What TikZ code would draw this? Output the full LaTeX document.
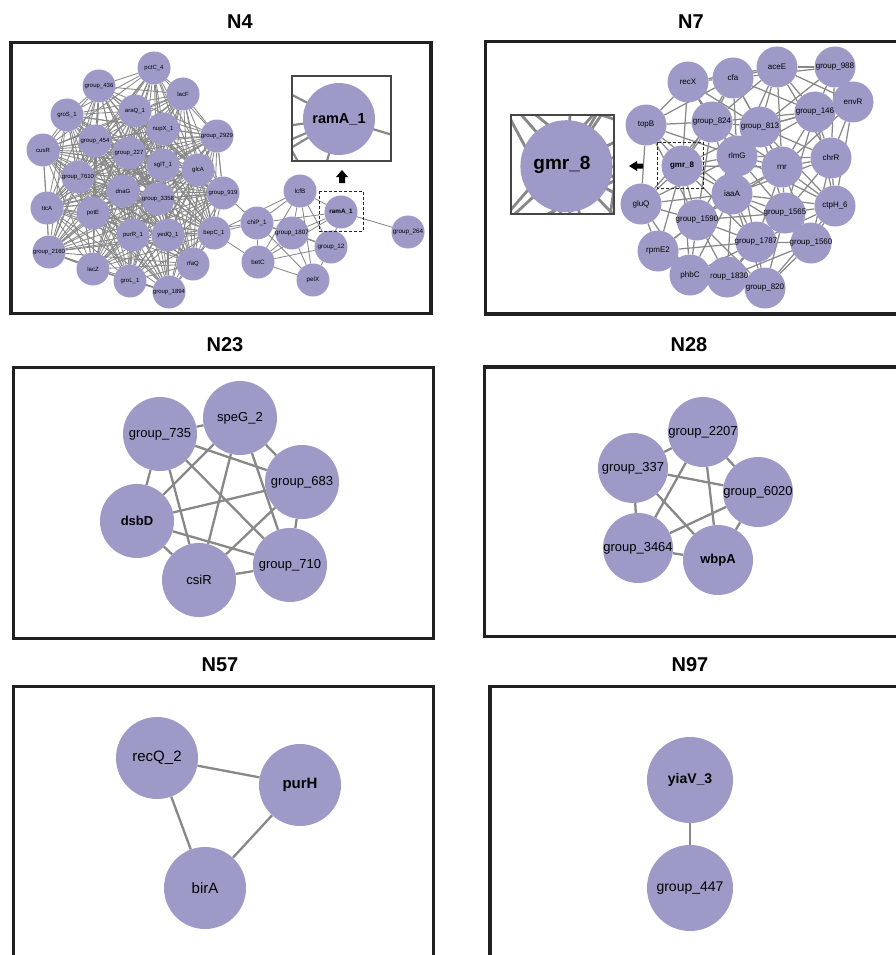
\documentclass[tikz,border=0pt]{standalone}
\usepackage{fontspec}
\setmainfont{Liberation Sans}
\definecolor{nodefill}{RGB}{158,154,200}
\definecolor{edgegray}{RGB}{136,136,136}
\definecolor{framecol}{RGB}{32,32,32}
\definecolor{insetframe}{RGB}{70,70,70}
\pgfdeclarelayer{bglayer}
\pgfdeclarelayer{edgelayer}
\pgfsetlayers{bglayer,edgelayer,main}
\tikzset{
  gnode/.style={circle,fill=nodefill,inner sep=0pt,text=black,minimum size=#1},
  panel/.style={draw=framecol,line width=3.3pt},
  ptitle/.style={font=\fontsize{20}{24}\selectfont\bfseries},
  bigedge/.style={draw=edgegray,line width=2.3pt},
  efour/.style={draw=edgegray,line width=0.85pt},
  eseven/.style={draw=edgegray,line width=1.25pt},
  zfour/.style={draw=edgegray,line width=2.2pt},
  zseven/.style={draw=edgegray,line width=2.8pt},
  insetbox/.style={draw=insetframe,line width=1.6pt},
  dashbox/.style={draw=black!85,line width=0.9pt,dash pattern=on 3pt off 2pt},
}
\newcommand\lbl[1]{\makebox[0pt]{#1}}
\newcommand\threshedges[4]{%
  \foreach \a/\ax/\ay/\la [count=\i] in #1 {%
    \foreach \b/\bx/\by/\lb [count=\j] in #1 {%
      \ifnum\j>\i
        \pgfmathtruncatemacro\ok{veclen(\bx-\ax,\by-\ay)<#2}%
        \ifnum\ok=1 \draw[#3] (#4\a) -- (#4\b);\fi
      \fi
    }%
  }}
\def\NfourL{pctC4/154/68/pctC\_4, g436/99/86/group\_436, lacF/183/94/lacF, araQ/135/111/araQ\_1, groS/67/115/groS\_1, nupX/163/129/nupX\_1, g2929/217/136/group\_2929, cusR/43/150/cusR, g454/95/141/group\_454, g227/129/153/group\_227, sglT/163/165/sglT\_1, glcA/198/170/glcA, g7610/78/177/group\_7610, dnaG/123/191/dnaG, g3358/158/199/group\_3358, g919/223/193/group\_919, ttcA/47/208/ttcA, potE/93/213/potE, purR/133/235/purR\_1, yedQ/168/235/yedQ\_1, bepC/214/233/bepC\_1, g2160/49/252/group\_2160, lacZ/93/269/lacZ, rfaQ/193/264/rfaQ, groL/130/281/groL\_1, g1894/169/292/group\_1894}
\def\NfourR{lcfB/300/191/lcfB, ramA/341/212/{\bfseries ramA\_1}, g264/408/232/group\_264, chiP/257/223/chiP\_1, g1807/292/233/group\_1807, g12/331/247/group\_12, betC/258/262/betC, pelX/313/280/pelX}
\def\NfourRE{chiP/lcfB, chiP/g1807, chiP/betC, chiP/pelX, chiP/ramA, chiP/g12, lcfB/g1807, lcfB/betC, lcfB/ramA, lcfB/g12, lcfB/pelX, ramA/g1807, ramA/betC, ramA/g264, ramA/g12, g1807/betC, g1807/pelX, g1807/g12, betC/g12, betC/pelX, g12/pelX}
\def\NsevenL{recX/688/82/recX, cfa/733/78/cfa, aceE/777/67/aceE, g988/835/67/group\_988, envR/853/102/envR, g146/815/112/group\_146, g824/712/122/group\_824, g813/760/127/group\_813, topB/646/125/topB, rlmG/737/156/rlmG, gmr/682/166/{\bfseries gmr\_8}, chrR/831/158/chrR, rnr/782/167/rnr, iaaA/732/194/iaaA, gluQ/641/204/gluQ, g1590/697/220/group\_1590, g1565/785/213/group\_1565, ctpH/835/206/ctpH\_6, g1787/756/242/group\_1787, g1560/811/243/group\_1560, rpmE/658/251/rpmE2, g1830/727/277/group\_1830, phbC/690/275/phbC, g820/765/288/group\_820}
\begin{document}
\begin{tikzpicture}[x=1pt,y=-1pt]
\useasboundingbox (0,0) rectangle (896,955);
\begin{pgfonlayer}{bglayer}
\fill[white] (0,0) rectangle (896,955);
\end{pgfonlayer}

% ---------- titles ----------
\node[ptitle] (t4) at (240,22) {N4};
\node[ptitle] (t7) at (691,22) {N7};
\node[ptitle] (t23) at (225,345) {N23};
\node[ptitle] (t28) at (689,345) {N28};
\node[ptitle] (t57) at (220,665) {N57};
\node[ptitle] (t97) at (690,665) {N97};

% ---------- panel frames ----------
\draw[panel] (11,42.5) rectangle (431,313.5);
\draw[panel] (485.5,41.5) rectangle (905,314);
\draw[panel] (13.5,367.5) rectangle (433.5,638.5);
\draw[panel] (484.5,367) rectangle (905,636.5);
\draw[panel] (13.5,965) -- (13.5,686.5) -- (433.5,686.5) -- (433.5,965);
\draw[panel] (490,965) -- (490,686.5) -- (905,686.5);

% ---------- N4 ----------
\foreach \n/\x/\y/\t in \NfourL {\node[gnode=33pt,font=\fontsize{6}{7}\selectfont] (\n) at (\x,\y) {\lbl{\t}};}
\foreach \n/\x/\y/\t in \NfourR {\node[gnode=33pt,font=\fontsize{6.3}{7}\selectfont] (\n) at (\x,\y) {\lbl{\t}};}
\begin{pgfonlayer}{edgelayer}
\threshedges{\NfourL}{190}{efour}{}
\foreach \a/\b in \NfourRE {\draw[efour] (\a) -- (\b);}
\foreach \a/\b in {bepC/chiP, bepC/betC, bepC/lcfB, yedQ/chiP, g919/chiP, g2929/g919}{\draw[efour] (\a) -- (\b);}
\end{pgfonlayer}
\draw[dashbox] (319,191) rectangle (363,231);
\fill (336,177) -- (342,170) -- (348,177) -- (345,177) -- (345,183) -- (339,183) -- (339,177) -- cycle;
% inset N4
\fill[white] (292,76) rectangle (391,161);
\begin{scope}
\clip (292,76) rectangle (391,161);
\foreach \n/\x/\y/\t in \NfourR {\coordinate (z\n) at ({339+2.2*(\x-341)},{119+2.2*(\y-212)});}
\foreach \a/\b in \NfourRE {\draw[zfour] (z\a) -- (z\b);}
\foreach \n/\x/\y/\t in \NfourR {\fill[nodefill] (z\n) circle[radius=36pt];}
\end{scope}
\node[font=\fontsize{14.5}{16}\selectfont\bfseries] (zramAlabel) at (339,119) {ramA\_1};
\draw[insetbox] (292,76) rectangle (391,161);

% ---------- N7 ----------
\foreach \n/\x/\y/\t in \NsevenL {\node[gnode=41pt,font=\fontsize{8}{9}\selectfont] (\n) at (\x,\y) {\lbl{\t}};}
\begin{pgfonlayer}{edgelayer}
\threshedges{\NsevenL}{112}{eseven}{}
\end{pgfonlayer}
\draw[dashbox] (657,142) rectangle (703,188);
\fill (637,161) -- (629,166) -- (637,171) -- (637,168.5) -- (643,168.5) -- (643,163.5) -- (637,163.5) -- cycle;
% inset N7
\fill[white] (511,115) rectangle (614,214);
\begin{scope}
\clip (511,115) rectangle (614,214);
\foreach \n/\x/\y/\t in \NsevenL {\coordinate (z\n) at ({562+2.2*(\x-680)},{164+2.2*(\y-165)});}
\threshedges{\NsevenL}{112}{zseven}{z}
\foreach \n/\x/\y/\t in \NsevenL {\fill[nodefill] (z\n) circle[radius=46pt];}
\end{scope}
\node[font=\fontsize{19}{21}\selectfont\bfseries] (zgmrlabel) at (562,165) {gmr\_8};
\draw[insetbox] (511,115) rectangle (614,214);

% ---------- N23 ----------
\begin{scope}[every node/.style={gnode=74pt,font=\fontsize{13}{15}\selectfont}]
\node (g735) at (160,434) {\lbl{group\_735}};
\node (speG) at (240,418) {\lbl{speG\_2}};
\node (g683) at (302,482) {\lbl{group\_683}};
\node (dsbD) at (137,521) {\lbl{\bfseries dsbD}};
\node (g710) at (290,565) {\lbl{group\_710}};
\node (csiR) at (199,580) {\lbl{csiR}};
\end{scope}
\begin{pgfonlayer}{edgelayer}
\foreach \a/\b in {g735/speG, g735/g683, g735/dsbD, g735/g710, g735/csiR, speG/g683, speG/dsbD, speG/g710, speG/csiR, g683/dsbD, g683/g710, g683/csiR, dsbD/g710, dsbD/csiR, g710/csiR}{\draw[bigedge] (\a) -- (\b);}
\end{pgfonlayer}

% ---------- N28 ----------
\begin{scope}[every node/.style={gnode=70pt,font=\fontsize{13}{15}\selectfont}]
\node (g2207) at (703,432) {\lbl{group\_2207}};
\node (g337) at (633,468) {\lbl{group\_337}};
\node (g6020) at (758,492) {\lbl{group\_6020}};
\node (g3464) at (638,548) {\lbl{group\_3464}};
\node (wbpA) at (718,560) {\lbl{\bfseries wbpA}};
\end{scope}
\begin{pgfonlayer}{edgelayer}
\foreach \a/\b in {g2207/g337, g2207/g6020, g2207/g3464, g2207/wbpA, g337/g6020, g337/g3464, g337/wbpA, g6020/g3464, g6020/wbpA, g3464/wbpA}{\draw[bigedge] (\a) -- (\b);}
\end{pgfonlayer}

% ---------- N57 ----------
\begin{scope}[every node/.style={gnode=82pt,font=\fontsize{15}{17}\selectfont}]
\node (recQ) at (157,758) {\lbl{recQ\_2}};
\node (purH) at (300,785) {\lbl{\bfseries purH}};
\node (birA) at (205,888) {\lbl{birA}};
\end{scope}
\begin{pgfonlayer}{edgelayer}
\foreach \a/\b in {recQ/purH, recQ/birA, purH/birA}{\draw[bigedge] (\a) -- (\b);}
\end{pgfonlayer}

% ---------- N97 ----------
\begin{scope}[every node/.style={gnode=86pt,font=\fontsize{14}{16}\selectfont}]
\node (yiaV) at (690,780) {\lbl{\bfseries yiaV\_3}};
\node (g447) at (690,888) {\lbl{group\_447}};
\end{scope}
\begin{pgfonlayer}{edgelayer}
\draw[bigedge] (yiaV) -- (g447);
\end{pgfonlayer}
\end{tikzpicture}
\end{document}
